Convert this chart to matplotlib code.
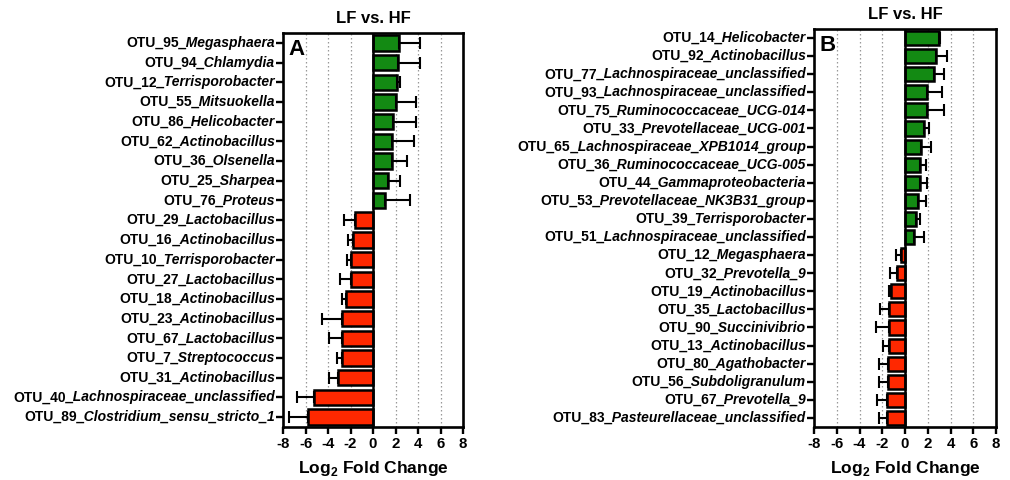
import matplotlib
matplotlib.use("Agg")
import matplotlib.pyplot as plt
import numpy as np
from matplotlib.transforms import blended_transform_factory, offset_copy

plt.rcParams['font.family'] = ['Liberation Sans', 'DejaVu Sans']
plt.rcParams['font.weight'] = 'bold'
plt.rcParams['mathtext.fontset'] = 'custom'
plt.rcParams['mathtext.rm'] = 'Liberation Sans:bold'
plt.rcParams['mathtext.bf'] = 'Liberation Sans:bold'

# Panel A data
otu_a = ["OTU_95", "OTU_94", "OTU_12", "OTU_55", "OTU_86", "OTU_62", "OTU_36", "OTU_25", "OTU_76",
         "OTU_29", "OTU_16", "OTU_10", "OTU_27", "OTU_18", "OTU_23", "OTU_67", "OTU_7", "OTU_31",
         "OTU_40", "OTU_89"]
genus_a = ["Megasphaera", "Chlamydia", "Terrisporobacter", "Mitsuokella", "Helicobacter",
           "Actinobacillus", "Olsenella", "Sharpea", "Proteus", "Lactobacillus", "Actinobacillus",
           "Terrisporobacter", "Lactobacillus", "Actinobacillus", "Actinobacillus", "Lactobacillus",
           "Streptococcus", "Actinobacillus", "Lachnospiraceae_unclassified",
           "Clostridium_sensu_stricto_1"]
lfc_a = [2.3, 2.25, 2.15, 2.0, 1.8, 1.7, 1.7, 1.3, 1.05,
         -1.63, -1.78, -2.0, -2.0, -2.4, -2.73, -2.73, -2.76, -3.14, -5.27, -5.8]
err_a = [1.9, 1.95, 0.25, 1.8, 2.0, 1.9, 1.3, 1.1, 2.2,
         0.92, 0.42, 0.35, 0.96, 0.35, 1.8, 1.21, 0.44, 0.8, 1.49, 1.64]

# Panel B data
otu_b = ["OTU_14", "OTU_92", "OTU_77", "OTU_93", "OTU_75", "OTU_33", "OTU_65", "OTU_36", "OTU_44",
         "OTU_53", "OTU_39", "OTU_51", "OTU_12", "OTU_32", "OTU_19", "OTU_35", "OTU_90", "OTU_13",
         "OTU_80", "OTU_56", "OTU_67", "OTU_83"]
genus_b = ["Helicobacter", "Actinobacillus", "Lachnospiraceae_unclassified",
           "Lachnospiraceae_unclassified", "Ruminococcaceae_UCG-014", "Prevotellaceae_UCG-001",
           "Lachnospiraceae_XPB1014_group", "Ruminococcaceae_UCG-005", "Gammaproteobacteria",
           "Prevotellaceae_NK3B31_group", "Terrisporobacter", "Lachnospiraceae_unclassified",
           "Megasphaera", "Prevotella_9", "Actinobacillus", "Lactobacillus", "Succinivibrio",
           "Actinobacillus", "Agathobacter", "Subdoligranulum", "Prevotella_9",
           "Pasteurellaceae_unclassified"]
lfc_b = [2.96, 2.76, 2.58, 1.96, 1.96, 1.67, 1.38, 1.32, 1.29, 1.17, 0.97, 0.82,
         -0.32, -0.67, -1.2, -1.38, -1.44, -1.44, -1.47, -1.47, -1.55, -1.61]
err_b = [0.12, 0.96, 0.85, 1.32, 1.5, 0.47, 0.91, 0.53, 0.61, 0.68, 0.38, 0.88,
         0.5, 0.65, 0.24, 0.79, 1.11, 0.46, 0.82, 0.82, 0.94, 0.68]

title = "LF vs. HF"
xticks = [-8, -6, -4, -2, 0, 2, 4, 6, 8]
green = "#138a13"
red = "#ff2800"
LABEL_FS = 10.0

fig = plt.figure(figsize=(10.1, 4.8), dpi=100)
renderer = fig.canvas.get_renderer()


def draw(ax, otus, genera, vals, errs, letter):
    n = len(vals)
    y = np.arange(n)
    cols = [green if v > 0 else red for v in vals]
    ax.barh(y, vals, height=0.78, color=cols, edgecolor="black", linewidth=1.8, zorder=3)
    for yi, v, e in zip(y, vals, errs):
        pos = v > 0
        ax.errorbar([v], [yi], xerr=[[0 if pos else e], [e if pos else 0]],
                    fmt="none", ecolor="black", elinewidth=1.5, capsize=4, capthick=1.5, zorder=4)
    ax.set_xlim(-8, 8)
    ax.set_ylim(n - 0.5, -0.5)
    ax.set_xticks(xticks)
    ax.set_xticklabels([str(t) for t in xticks], fontsize=10.8, fontweight="bold")
    ax.set_yticks(y)
    ax.set_yticklabels([""] * n)
    for gx in [-6, -4, -2, 2, 4, 6]:
        ax.axvline(gx, color="#999999", linestyle=(0, (1.2, 2)), linewidth=0.9, zorder=1)
    ax.axvline(0, color="black", linewidth=1.8, zorder=5)
    for s in ax.spines.values():
        s.set_linewidth(1.9)
    ax.tick_params(axis="both", direction="out", width=1.7, length=5, pad=2)
    ax.set_title(title, fontsize=12, fontweight="bold", pad=7)
    ax.set_xlabel(r"Log$_\mathbf{2}$ Fold Change", fontsize=12.5, fontweight="bold", labelpad=6)
    ax.text(0.03, 0.985, letter, transform=ax.transAxes, fontsize=16, fontweight="bold",
            va="top", ha="left", zorder=6)
    # two-style y labels
    base = blended_transform_factory(ax.transAxes, ax.transData)
    off = -5.5
    tr = offset_copy(base, fig=fig, x=off, y=0, units="points")
    for yi, o, g in zip(y, otus, genera):
        t2 = ax.text(0, yi, "_" + g, transform=tr, ha="right", va="center",
                     fontsize=LABEL_FS, fontweight="bold", fontstyle="italic", clip_on=False)
        w = t2.get_window_extent(renderer).width * 72 / fig.dpi
        tr1 = offset_copy(base, fig=fig, x=off - w, y=0, units="points")
        ax.text(0, yi, o, transform=tr1, ha="right", va="center",
                fontsize=LABEL_FS, fontweight="bold", clip_on=False)


W, H = 1010, 480
axA = fig.add_axes([283 / W, 1 - 427 / H, 180 / W, (427 - 33) / H])
axB = fig.add_axes([814 / W, 1 - 427 / H, 182 / W, (427 - 29) / H])
draw(axA, otu_a, genus_a, lfc_a, err_a, "A")
draw(axB, otu_b, genus_b, lfc_b, err_b, "B")
fig.savefig("out.png", dpi=100)
